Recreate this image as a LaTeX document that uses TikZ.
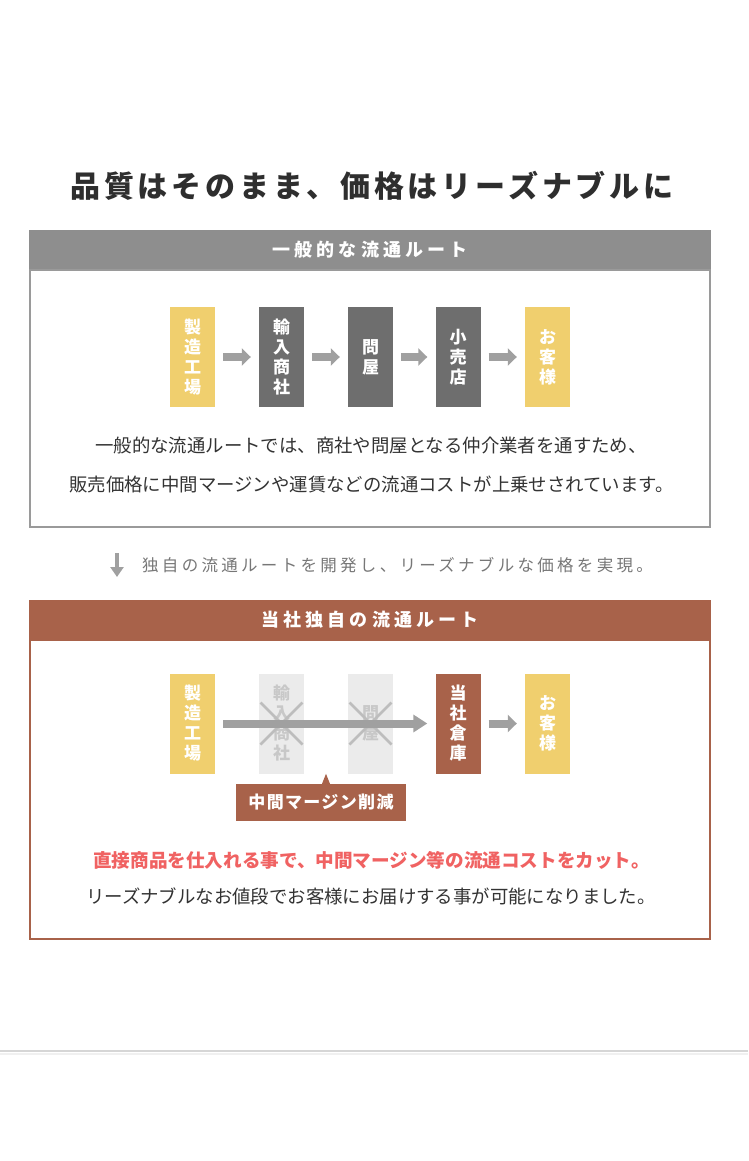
\documentclass[tikz,border=0pt]{standalone}
\usepackage{fontspec}
\setmainfont{Noto Sans CJK JP}
\usetikzlibrary{arrows.meta}

\definecolor{routegray}{HTML}{8E8E8E}
\definecolor{framegray}{HTML}{9A9A9A}
\definecolor{boxgold}{HTML}{F0CF6E}
\definecolor{boxdark}{HTML}{6E6E6E}
\definecolor{ownbrown}{HTML}{A8624A}
\definecolor{fadebox}{HTML}{EBEBEB}
\definecolor{fadetext}{HTML}{C8C8C8}
\definecolor{arrowgray}{HTML}{A0A0A0}
\definecolor{cutred}{HTML}{F06262}
\definecolor{bodytext}{HTML}{333333}
\definecolor{notegray}{HTML}{777777}

\tikzset{
  stage/.style={minimum width=45pt, minimum height=100pt, inner sep=0pt,
    align=center, text=white, font=\fontsize{17}{20}\selectfont\bfseries},
  maker/.style={stage, fill=boxgold},
  trader/.style={stage, fill=boxdark},
  skipped/.style={stage, fill=fadebox, text=fadetext},
  ownstage/.style={stage, fill=ownbrown},
  flow/.style={draw=arrowgray, line width=8pt, -{Triangle[length=9pt,width=17pt]}},
  longflow/.style={flow, -{Triangle[length=14pt,width=17pt]}},
  crossout/.style={draw=fadetext!85!gray, line width=2.5pt},
  headbar/.style={minimum width=682pt, minimum height=40pt, inner sep=0pt, text=white,
    font=\fontsize{18}{20}\selectfont\bfseries\addfontfeatures{LetterSpace=23}},
  bodyline/.style={text=bodytext, inner sep=0pt, font=\fontsize{18.4}{20}\selectfont},
}

\begin{document}
\begin{tikzpicture}[x=1pt, y=-1pt]
  \useasboundingbox [fill=white] (0,0) rectangle (748,1161);

  % title
  \node [text=bodytext!90!black, inner sep=0pt,
    font=\fontsize{30}{32}\selectfont\bfseries\addfontfeatures{LetterSpace=13}]
    (title) at (372,186) {品質はそのまま、価格はリーズナブルに};

  % usual route
  \node [headbar, fill=routegray] (usualhead) at (370,250) {一般的な流通ルート};
  \draw [framegray, line width=2pt] (30,270) rectangle (710,527);

  \node [maker] (factory) at (192.5,357) {製\\造\\工\\場};
  \node [trader] (importer) at (281.5,357) {輸\\入\\商\\社};
  \node [trader] (wholesale) at (370.5,357) {問\\屋};
  \node [trader] (retail) at (458,357) {小\\売\\店};
  \node [maker] (customer) at (547.5,357) {お\\客\\様};

  \draw [flow] ([xshift=8pt]factory.east) -- ([xshift=-8pt]importer.west);
  \draw [flow] ([xshift=8pt]importer.east) -- ([xshift=-8pt]wholesale.west);
  \draw [flow] ([xshift=8pt]wholesale.east) -- ([xshift=-8pt]retail.west);
  \draw [flow] ([xshift=8pt]retail.east) -- ([xshift=-8pt]customer.west);

  \node [bodyline] (usualtext1) at (371,445) {一般的な流通ルートでは、商社や問屋となる仲介業者を通すため、};
  \node [bodyline] (usualtext2) at (371.5,484) {販売価格に中間マージンや運賃などの流通コストが上乗せされています。};

  % between the two routes
  \coordinate (downtop) at (117,553);
  \coordinate (downend) at (117,577);
  \draw [draw=arrowgray, line width=4pt, -{Triangle[length=10pt,width=13pt]}] (downtop) -- (downend);
  \node [anchor=west, inner sep=0pt, text=notegray,
    font=\fontsize{16.5}{18}\selectfont\addfontfeatures{LetterSpace=20}]
    (note) at (142,565) {独自の流通ルートを開発し、リーズナブルな価格を実現。};

  % own route
  \node [headbar, fill=ownbrown] (ownhead) at (370,620) {当社独自の流通ルート};
  \draw [ownbrown, line width=2pt] (30,640) rectangle (710,939);

  \node [maker] (factory2) at (192.5,723.5) {製\\造\\工\\場};
  \node [skipped] (importer2) at (281.5,723.5) {輸\\入\\商\\社};
  \node [skipped] (wholesale2) at (370.5,723.5) {問\\屋};
  \node [ownstage] (warehouse) at (458,723.5) {当\\社\\倉\\庫};
  \node [maker] (customer2) at (547.5,723.5) {お\\客\\様};

  \draw [crossout] (importer2.center) ++(-21,-21) -- ++(42,42)
    (importer2.center) ++(-21,21) -- ++(42,-42);
  \draw [crossout] (wholesale2.center) ++(-21,-21) -- ++(42,42)
    (wholesale2.center) ++(-21,21) -- ++(42,-42);

  \draw [longflow] ([xshift=8pt]factory2.east) -- ([xshift=-8pt]warehouse.west);
  \draw [flow] ([xshift=8pt]warehouse.east) -- ([xshift=-8pt]customer2.west);

  \node [fill=ownbrown, minimum width=170pt, minimum height=37pt, inner sep=0pt, text=white,
    font=\fontsize{17}{20}\selectfont\bfseries\addfontfeatures{LetterSpace=8}]
    (cut) at (321,802.5) {中間マージン削減};
  \fill [ownbrown] ([xshift=1pt]cut.north) -- ([xshift=5pt,yshift=10pt]cut.north)
    -- ([xshift=9pt]cut.north) -- cycle;

  \node [bodyline, text=cutred, font=\fontsize{18.6}{20}\selectfont\bfseries]
    (owntext1) at (371.5,860) {直接商品を仕入れる事で、中間マージン等の流通コストをカット。};
  \node [bodyline] (owntext2) at (371,896) {リーズナブルなお値段でお客様にお届けする事が可能になりました。};

  % page rule
  \draw [black!16, line width=1.5pt] (0,1051) -- (748,1051);
  \draw [black!6, line width=2pt] (0,1053.5) -- (748,1053.5);
\end{tikzpicture}
\end{document}
